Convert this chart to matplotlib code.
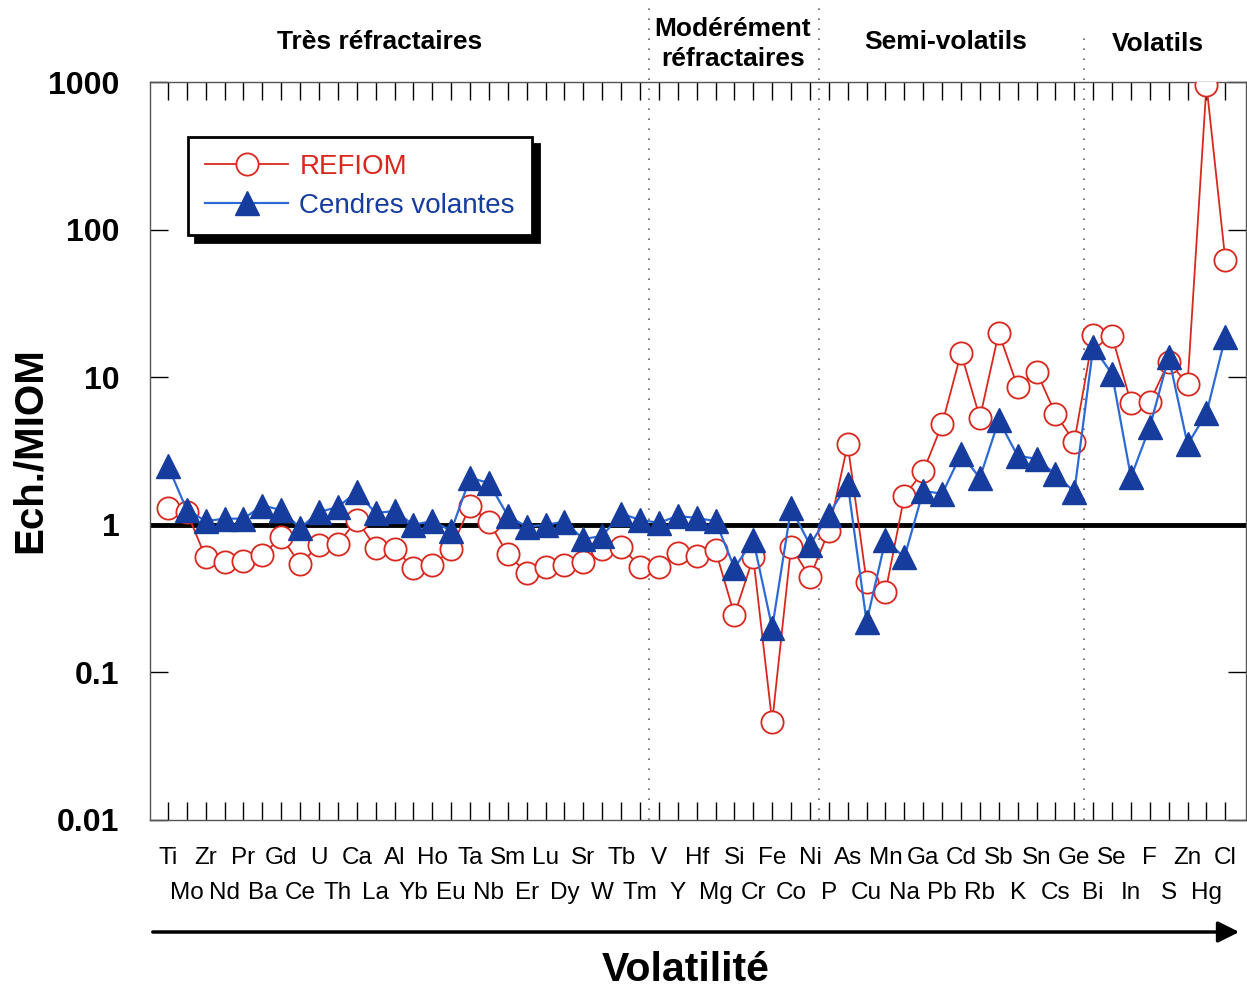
import numpy as np
import matplotlib.pyplot as plt
from matplotlib.transforms import blended_transform_factory

plt.rcParams['font.family'] = ['Liberation Sans', 'DejaVu Sans']

# elements ordered by volatility (top row = even index, bottom row = odd index)
elements = ['Ti', 'Mo', 'Zr', 'Nd', 'Pr', 'Ba', 'Gd', 'Ce', 'U', 'Th',
            'Ca', 'La', 'Al', 'Yb', 'Ho', 'Eu', 'Ta', 'Nb', 'Sm', 'Er',
            'Lu', 'Dy', 'Sr', 'W', 'Tb', 'Tm', 'V', 'Y', 'Hf', 'Mg',
            'Si', 'Cr', 'Fe', 'Co', 'Ni', 'P', 'As', 'Cu', 'Mn', 'Na',
            'Ga', 'Pb', 'Cd', 'Rb', 'Sb', 'K', 'Sn', 'Cs', 'Ge', 'Bi',
            'Se', 'In', 'F', 'S', 'Zn', 'Hg', 'Cl']

refiom = [1.30, 1.22, 0.60, 0.56, 0.57, 0.62, 0.83, 0.54, 0.73, 0.74,
          1.08, 0.70, 0.69, 0.51, 0.53, 0.68, 1.35, 1.05, 0.63, 0.47,
          0.52, 0.53, 0.56, 0.68, 0.71, 0.52, 0.52, 0.64, 0.61, 0.67,
          0.245, 0.60, 0.046, 0.71, 0.44, 0.91, 3.5, 0.41, 0.35, 1.57,
          2.3, 4.8, 14.6, 5.3, 20.0, 8.6, 10.9, 5.65, 3.65, 19.4,
          19.0, 6.7, 6.8, 12.7, 9.0, 957, 62]

cendres = [2.5, 1.26, 1.06, 1.1, 1.1, 1.35, 1.26, 0.95, 1.22, 1.32,
           1.67, 1.2, 1.24, 1.0, 1.06, 0.91, 2.08, 1.92, 1.15, 0.97,
           1.0, 1.05, 0.80, 0.84, 1.19, 1.08, 1.03, 1.15, 1.11, 1.06,
           0.51, 0.79, 0.20, 1.30, 0.73, 1.17, 1.90, 0.22, 0.79, 0.60,
           1.70, 1.62, 3.0, 2.08, 5.1, 2.93, 2.8, 2.2, 1.67, 16.0,
           10.5, 2.1, 4.6, 13.7, 3.5, 5.7, 18.8]

groups = ['Très réfractaires', 'Modérément\nréfractaires', 'Semi-volatils', 'Volatils']
group_bounds = [25.5, 34.5, 48.5]

ytick_vals = [0.01, 0.1, 1, 10, 100, 1000]
ytick_labels = ['0.01', '0.1', '1', '10', '100', '1000']

x = np.arange(len(elements))

fig = plt.figure(figsize=(12.47, 9.89), dpi=100)
ax = fig.add_axes([0.1203, 0.171, 0.879, 0.746])

ax.set_yscale('log')
ax.set_ylim(0.01, 1000)
ax.set_xlim(-0.95, 57.1)

ax.axhline(1, color='black', lw=3.5, zorder=1)

red = '#d8281e'
blue_line = '#2e6ad6'
blue_mark = '#163c9e'
ax.plot(x, refiom, '-o', color=red, lw=1.3, ms=16, mfc='white', mec=red,
        mew=1.3, label='REFIOM', zorder=3)
ax.plot(x, cendres, '-^', color=blue_line, lw=1.6, ms=17, mfc=blue_mark,
        mec=blue_mark, label='Cendres volantes', zorder=4)

# dotted separators reaching into the header
trans = blended_transform_factory(ax.transData, ax.transAxes)
tops = [1.1, 1.1, 1.06]
for b, t in zip(group_bounds, tops):
    ax.plot([b, b], [0, t], transform=trans, color='#666666', lw=1.2,
            ls=(0, (1, 5)), clip_on=False, zorder=2)

ax.set_yticks(ytick_vals)
ax.set_yticklabels(ytick_labels, fontsize=23, fontweight='bold')
ax.yaxis.set_minor_locator(plt.NullLocator())
ax.tick_params(axis='y', direction='in', length=13, width=1, right=True, pad=22)
ax.set_xticks(x)
ax.set_xticklabels([])
ax.tick_params(axis='x', direction='in', length=13, width=1, top=True)
for s in ax.spines.values():
    s.set_linewidth(1)
    s.set_color('#555555')

for i, name in enumerate(elements):
    yy = -0.0515 if i % 2 == 0 else -0.099
    ax.text(i, yy, name, transform=trans, ha='center', va='center', fontsize=17.5)

# group headers
fig.text(380 / 1247, 1 - 42 / 989, groups[0], ha='center', va='center', fontsize=19, fontweight='bold')
fig.text(733 / 1247, 1 - 44 / 989, groups[1], ha='center', va='center', fontsize=19,
         fontweight='bold', linespacing=1.35)
fig.text(946 / 1247, 1 - 42 / 989, groups[2], ha='center', va='center', fontsize=19, fontweight='bold')
fig.text(1158 / 1247, 1 - 44 / 989, groups[3], ha='center', va='center', fontsize=19, fontweight='bold')

fig.text(30 / 1247, 1 - 450 / 989, 'Ech./MIOM', rotation=90, ha='center', va='center',
         fontsize=29, fontweight='bold')

# volatility arrow
fig.add_artist(plt.matplotlib.patches.FancyArrowPatch(
    (150 / 1247, 1 - 932 / 989), (1242 / 1247, 1 - 932 / 989),
    transform=fig.transFigure, arrowstyle='-|>', mutation_scale=32,
    lw=2.5, color='black'))
fig.text(686 / 1247, 1 - 970 / 989, 'Volatilité', ha='center', va='center',
         fontsize=29.5, fontweight='bold')

leg = ax.legend(loc='upper left', bbox_to_anchor=(0.035, 0.925), borderaxespad=0,
                fontsize=20, frameon=True, fancybox=False, handlelength=3.0,
                shadow={'color': 'black', 'alpha': 1, 'ox': 5, 'oy': -5},
                labelspacing=0.45, borderpad=0.6, handletextpad=0.4)
leg.get_frame().set_edgecolor('black')
leg.get_frame().set_linewidth(2)
leg.get_texts()[0].set_color(red)
leg.get_texts()[1].set_color(blue_mark)

fig.savefig('out.png', dpi=100)
